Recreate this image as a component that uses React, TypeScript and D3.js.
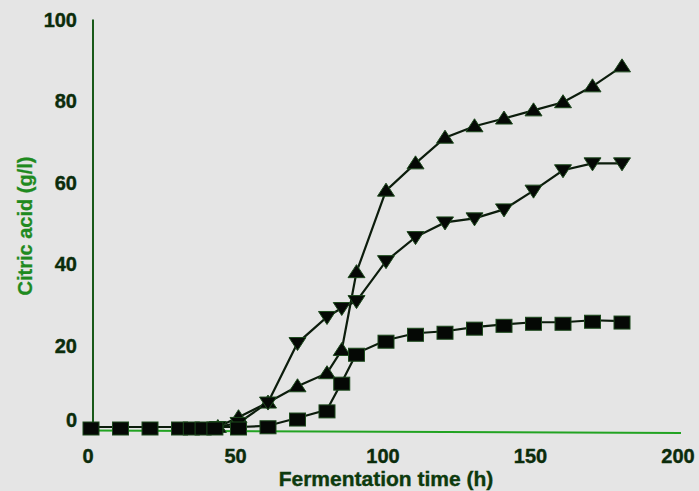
import React from "react";
import * as d3 from "d3";

const xTicks = [0, 50, 100, 150, 200];
const yTicks = [0, 20, 40, 60, 80, 100];

const squareX = [0, 10, 20, 30, 34, 38, 42, 50, 60, 70, 80, 85, 90, 100, 110, 120, 130, 140, 150, 160, 170, 180];
const squareY = [0, 0, 0, 0, 0, 0, 0, 0, 0.3, 2.2, 4.2, 11, 18.1, 21.3, 23, 23.5, 24.5, 25.2, 25.7, 25.7, 26.2, 26];

const upX = [43, 50, 60, 70, 80, 85, 90, 100, 110, 120, 130, 140, 150, 160, 170, 180];
const upY = [0, 2.4, 6, 10, 13.2, 18.9, 38, 58, 64.7, 71, 73.8, 75.7, 77.7, 79.7, 83.6, 88.5];

const downX = [43, 50, 60, 70, 80, 85, 90, 100, 110, 120, 130, 140, 150, 160, 170, 180];
const downY = [0, 1, 6, 20.6, 27, 29.2, 30.9, 40.7, 46.6, 50.2, 51.2, 53.4, 58, 63, 64.7, 64.7];

const W = 699;
const H = 491;

export default function App() {
  const x = d3.scaleLinear().domain([0, 200]).range([91, 681]);
  const y = d3.scaleLinear().domain([0, 100]).range([427, 19.5]);

  const toPts = (xs: number[], ys: number[]) => xs.map((v, i) => [v, ys[i]] as [number, number]);
  const sq = toPts(squareX, squareY);
  const up = toPts(upX, upY);
  const dn = toPts(downX, downY);

  const line = d3
    .line<[number, number]>()
    .x((d) => x(d[0]))
    .y((d) => y(d[1]));

  const lineColor = "#0c1c0c";
  const markFill = "#050805";
  const markStroke = "#1d4a1d";

  const triUp = (cx: number, cy: number) =>
    `M${cx},${cy - 7.5}L${cx + 8.5},${cy + 5.5}L${cx - 8.5},${cy + 5.5}Z`;
  const triDown = (cx: number, cy: number) =>
    `M${cx},${cy + 7.5}L${cx + 8.5},${cy - 5.5}L${cx - 8.5},${cy - 5.5}Z`;

  const font = "'Liberation Sans', Arial, Helvetica, sans-serif";

  return (
    <svg
      width={W}
      height={H}
      style={{ position: "fixed", left: 0, top: 0, display: "block" }}
    >
      <rect x={0} y={0} width={W} height={H} fill="#e5e5e5" />
      {/* axes */}
      <line x1={x(0) + 2} x2={x(0) + 2} y1={y(100)} y2={431} stroke="#1a5a1a" strokeWidth={2} />
      <line x1={x(0) - 1} x2={x(200)} y1={430.5} y2={433} stroke="#22a322" strokeWidth={2} />

      {/* y tick labels */}
      {yTicks.map((t) => (
        <text
          key={"y" + t}
          x={77}
          y={(t === 0 ? y(t) - 7 : y(t)) + 7}
          textAnchor="end"
          fontFamily={font}
          fontWeight="bold"
          fontSize={20}
          fill="#0b2c0b"
          stroke="#0b2c0b"
          strokeWidth={0.4}
        >
          {t}
        </text>
      ))}
      {/* x tick labels */}
      {xTicks.map((t) => (
        <text
          key={"x" + t}
          x={x(t) - 3}
          y={463}
          textAnchor="middle"
          fontFamily={font}
          fontWeight="bold"
          fontSize={20}
          fill="#0b2c0b"
          stroke="#0b2c0b"
          strokeWidth={0.4}
        >
          {t}
        </text>
      ))}
      {/* axis titles */}
      <text
        x={386}
        y={486}
        textAnchor="middle"
        fontFamily={font}
        fontWeight="bold"
        fontSize={21}
        fill="#0d3a0d"
        stroke="#0d3a0d"
        strokeWidth={0.4}
      >
        Fermentation time (h)
      </text>
      <text
        transform={`translate(32,226) rotate(-90)`}
        textAnchor="middle"
        fontFamily={font}
        fontWeight="bold"
        fontSize={20}
        fill="#1f8a1f"
        stroke="#1f8a1f"
        strokeWidth={0.3}
      >
        Citric acid (g/l)
      </text>

      {/* lines */}
      <path d={line(up) || ""} fill="none" stroke={lineColor} strokeWidth={2.2} />
      <path d={line(dn) || ""} fill="none" stroke={lineColor} strokeWidth={2.2} />
      <path d={line(sq) || ""} fill="none" stroke={lineColor} strokeWidth={2.2} />

      {/* markers */}
      {up.map((d, i) => (
        <path key={"u" + i} d={triUp(x(d[0]), y(d[1]))} fill={markFill} stroke={markStroke} strokeWidth={1} />
      ))}
      {dn.map((d, i) => (
        <path key={"d" + i} d={triDown(x(d[0]), y(d[1]))} fill={markFill} stroke={markStroke} strokeWidth={1} />
      ))}
      {sq.map((d, i) => (
        <rect
          key={"s" + i}
          x={x(d[0]) - 8}
          y={y(d[1]) + 1.5 - 6.5}
          width={16}
          height={13}
          fill={markFill}
          stroke={markStroke}
          strokeWidth={1}
        />
      ))}
    </svg>
  );
}
